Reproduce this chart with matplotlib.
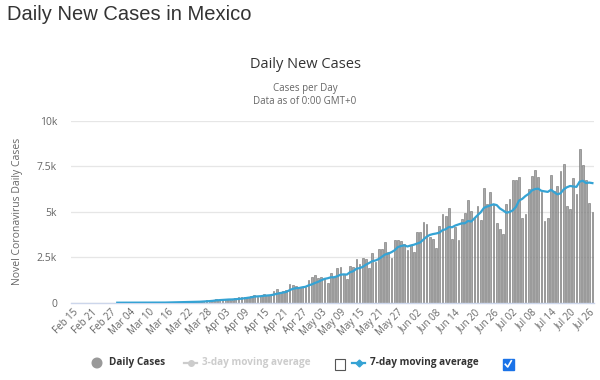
import matplotlib
matplotlib.use("Agg")
import matplotlib.pyplot as plt
from matplotlib.patches import Rectangle, Circle
import numpy as np

# ---- daily new cases, Feb 15 .. Jul 27 (one value per day) ----
daily_cases = [
    0, 0, 0, 0, 0, 0, 0, 0, 0, 0, 0, 0, 0, 1, 2,            # Feb 15 - Feb 29
    1, 0, 1, 1, 0, 1, 0, 1, 0, 0, 4, 4, 14, 15, 12, 29,     # Mar 01 - Mar 16
    11, 25, 46, 39, 48, 65, 51, 38, 70, 70, 110, 131, 145, 155, 224,  # Mar 17 - Mar 31
    160, 163, 178, 202, 163, 253, 296, 296, 340, 339, 390, 442, 325, 372, 472,  # Apr 01 - Apr 15
    420, 448, 622, 764, 577, 660, 678, 1043, 968, 892, 834, 853, 852, 1223, 1425,  # Apr 16 - Apr 30
    1515, 1349, 1434, 1383, 1089, 1609, 1425, 1906, 1938, 1562, 1305, 1997, 1992, 2409, 2112,  # May 01 - May 15
    2437, 2414, 1937, 2713, 2248, 2973, 2960, 3329, 2764, 2485, 3455, 3463, 3377, 3227, 2885, 3152,  # May 16 - May 31
    2771, 3891, 3912, 4442, 4346, 3593, 3484, 2999, 4199, 4883, 4790, 5222, 3494, 4147, 3427,  # Jun 01 - Jun 15
    4599, 4930, 5662, 5030, 4717, 5343, 4577, 6288, 5437, 6104, 5441, 4410, 4050, 3805, 5432,  # Jun 16 - Jun 30
    5681, 6741, 6740, 6914, 4683, 4902, 6258, 6995, 7280, 6891, 6094, 4482, 4685, 7051, 6149,  # Jul 01 - Jul 15
    6406, 7257, 7615, 5311, 5172, 6859, 5999, 8438, 7573, 6751, 5480, 4973,  # Jul 16 - Jul 27
]

# ---- 7-day moving average as shown (starts Feb 29) ----
ma7 = [None] * 14 + [
    0.4, 0.6, 0.6, 0.7, 0.9, 0.9, 0.9, 0.6, 0.6, 0.6, 0.4, 0.9, 1.4, 3.3, 5.4, 7.0, 11.1,
    12.7, 15.7, 21.7, 25.3, 30.0, 37.6, 40.7, 44.6, 51.0, 54.4, 64.6, 76.4, 87.9, 102.7, 129.3,
    142.1, 155.4, 165.1, 175.3, 177.9, 191.9, 202.1, 221.6, 246.9, 269.9, 296.7, 336.6, 346.9, 357.7, 382.9,
    394.3, 409.9, 443.0, 489.0, 525.0, 566.1, 595.6, 684.6, 758.9, 797.4, 807.4, 846.9, 874.3, 952.1, 1006.7,
    1084.9, 1150.1, 1235.9, 1311.6, 1345.4, 1400.6, 1400.6, 1456.4, 1540.6, 1558.9, 1547.7, 1677.4, 1732.1, 1872.7, 1902.1,
    1973.4, 2095.1, 2185.4, 2287.7, 2324.3, 2404.9, 2526.0, 2653.4, 2703.4, 2781.7, 2887.7, 3061.3, 3119.0, 3157.1, 3093.7, 3149.1,
    3190.0, 3252.3, 3316.4, 3468.6, 3628.4, 3729.6, 3777.0, 3809.6, 3853.6, 3992.3, 4042.0, 4167.1, 4153.0, 4247.7, 4308.9,
    4366.0, 4372.7, 4497.3, 4469.9, 4644.6, 4815.4, 4979.7, 5221.0, 5293.4, 5356.6, 5415.3, 5371.4, 5186.7, 5076.4, 4954.1,
    4989.0, 5080.0, 5265.6, 5623.3, 5713.7, 5870.4, 5988.4, 6176.1, 6253.1, 6274.7, 6157.6, 6128.9, 6097.9, 6211.1, 6090.3,
    5965.4, 6017.7, 6235.0, 6353.4, 6423.0, 6395.6, 6374.1, 6664.4, 6709.6, 6586.1, 6610.3, 6581.9,
]

tick_labels = [
    "Feb 15", "Feb 21", "Feb 27", "Mar 04", "Mar 10", "Mar 16", "Mar 22", "Mar 28",
    "Apr 03", "Apr 09", "Apr 15", "Apr 21", "Apr 27", "May 03", "May 09", "May 15",
    "May 21", "May 27", "Jun 02", "Jun 08", "Jun 14", "Jun 20", "Jun 26", "Jul 02",
    "Jul 08", "Jul 14", "Jul 20", "Jul 26",
]
y_ticks = [0, 2500, 5000, 7500, 10000]
y_tick_labels = ["0", "2.5k", "5k", "7.5k", "10k"]

FONT = ["Open Sans", "DejaVu Sans"]
plt.rcParams["font.family"] = FONT

BAR_FC = "#a8a8a8"
BAR_EC = "#6f6f6f"
LINE_C = "#35a3d4"
TXT = "#666666"

fig = plt.figure(figsize=(6, 3.8), dpi=100)
ax = fig.add_axes([71 / 600, 1 - 302.7 / 380, 523 / 600, (302.7 - 121) / 380])

x = np.arange(len(daily_cases))
ax.bar(x, daily_cases, width=0.55, color=BAR_FC, edgecolor=BAR_EC, linewidth=0.4, zorder=2)
ma_arr = np.array([np.nan if v is None else v for v in ma7], dtype=float)
ax.plot(x, ma_arr, color=LINE_C, linewidth=1.6, zorder=3)

ax.set_xlim(-0.5, len(daily_cases) - 0.5)
ax.set_ylim(0, 10000)
ax.set_yticks(y_ticks)
ax.set_yticklabels(y_tick_labels, fontsize=7.5, color=TXT)
ax.set_xticks(np.arange(0, len(daily_cases), 6))
ax.set_xticklabels(tick_labels, rotation=45, ha="right", rotation_mode="anchor",
                   fontsize=7, color=TXT)
ax.tick_params(axis="both", length=0)
ax.tick_params(axis="y", pad=10)
ax.tick_params(axis="x", pad=3)
ax.yaxis.grid(True, color="#e6e6e6", linewidth=0.9, zorder=0)
ax.set_axisbelow(True)
for s in ["top", "right", "left"]:
    ax.spines[s].set_visible(False)
ax.spines["bottom"].set_color("#ccd6eb")
ax.spines["bottom"].set_linewidth(1)

ax.set_ylabel("Novel Coronavirus Daily Cases", fontsize=7.5, color=TXT, labelpad=10)

# titles
fig.text(7 / 600, 1 - 14 / 380, "Daily New Cases in Mexico", fontsize=14.5,
         family=["Liberation Sans", "DejaVu Sans"], color="#333333", va="center", ha="left")
fig.text(305 / 600, 1 - 64 / 380, "Daily New Cases", fontsize=10.5, color="#333333",
         ha="center", va="center")
fig.text(305 / 600, 1 - 88 / 380, "Cases per Day", fontsize=7, color=TXT, ha="center", va="center")
fig.text(305 / 600, 1 - 101 / 380, "Data as of 0:00 GMT+0", fontsize=7, color=TXT,
         ha="center", va="center")

# legend drawn in pixel coordinates
lg = fig.add_axes([0, 0, 1, 1], zorder=5)
lg.set_xlim(0, 600)
lg.set_ylim(380, 0)
lg.axis("off")
ly = 363
lg.add_patch(Circle((97, ly), 4.8, color="#999999"))
lg.text(109, ly, "Daily Cases", fontsize=7.2, weight="bold", color="#333333", va="center")
lg.plot([184, 197], [ly, ly], color="#cccccc", lw=1.6)
lg.plot([190.5], [ly], marker="o", ms=4, color="#cccccc")
lg.text(202, ly, "3-day moving average", fontsize=7.2, weight="bold", color="#cccccc", va="center")
lg.add_patch(Rectangle((334.5, 358.5), 10, 11, fill=False, ec="#555555", lw=0.8))
lg.plot([352, 365], [ly, ly], color=LINE_C, lw=1.6)
lg.plot([358.5], [ly], marker="D", ms=3.5, color=LINE_C)
lg.text(370, ly, "7-day moving average", fontsize=7.2, weight="bold", color="#333333", va="center")
lg.add_patch(Rectangle((503, 358.5), 10.5, 11, color="#1a73e8"))
lg.plot([505.3, 507.7, 511.3], [364.3, 367, 360.8], color="white", lw=1.2)

fig.savefig("out.png", dpi=100)
